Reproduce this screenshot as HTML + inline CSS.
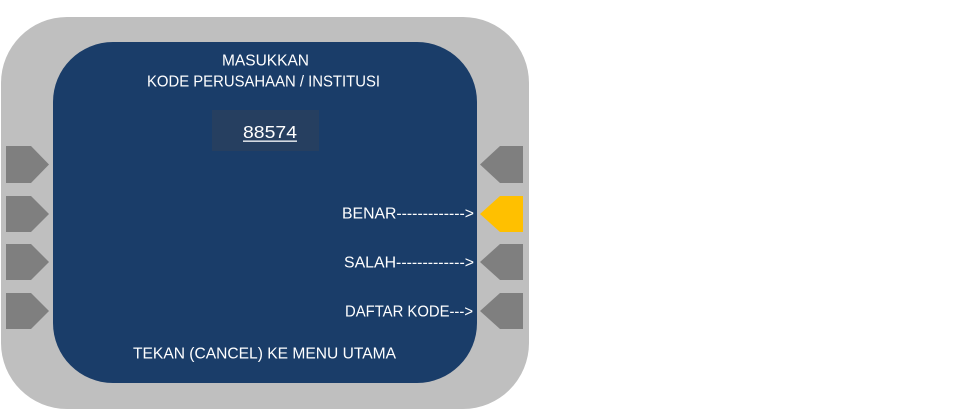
<!DOCTYPE html>
<html><head><meta charset="utf-8"><style>
html,body{margin:0;padding:0;background:#fff;}
svg{display:block;}
text{font-family:"Liberation Sans",sans-serif;fill:#ffffff;}
</style></head><body>
<svg width="979" height="419" viewBox="0 0 979 419" xmlns="http://www.w3.org/2000/svg">
<rect x="0" y="0" width="979" height="419" fill="#ffffff"/>
<rect x="1" y="17" width="528" height="392" rx="66" ry="66" fill="#bfbfbf"/>
<rect x="53" y="42" width="424" height="341" rx="60" ry="60" fill="#1a3d69"/>
<rect x="212" y="110" width="107" height="41" fill="#263f60"/>
<!-- left buttons -->
<polygon points="6,146 31,146 49,164.5 31,183 6,183" fill="#7f7f7f"/>
<polygon points="6,196 31,196 49,214 31,232 6,232" fill="#7f7f7f"/>
<polygon points="6,244 31,244 49,262 31,280 6,280" fill="#7f7f7f"/>
<polygon points="6,293 31,293 49,311 31,329 6,329" fill="#7f7f7f"/>
<!-- right buttons -->
<polygon points="523,146 500,146 480,164.5 500,183 523,183" fill="#7f7f7f"/>
<polygon points="523,196 500,196 480,214 500,232 523,232" fill="#ffc000"/>
<polygon points="523,244 500,244 480,262 500,280 523,280" fill="#7f7f7f"/>
<polygon points="523,293 500,293 480,311 500,329 523,329" fill="#7f7f7f"/>
<!-- texts -->
<text x="222" y="65.5" font-size="15.5" textLength="87" lengthAdjust="spacingAndGlyphs">MASUKKAN</text>
<text x="147" y="86.5" font-size="15.5" textLength="233" lengthAdjust="spacingAndGlyphs">KODE PERUSAHAAN / INSTITUSI</text>
<text x="243" y="138" font-size="17.5" textLength="54" lengthAdjust="spacingAndGlyphs">88574</text>
<rect x="243" y="140.5" width="54" height="1.3" fill="#ffffff"/>
<text x="342" y="218.5" font-size="15.5" textLength="132" lengthAdjust="spacingAndGlyphs">BENAR-------------&gt;</text>
<text x="344" y="267.5" font-size="15.5" textLength="130" lengthAdjust="spacingAndGlyphs">SALAH-------------&gt;</text>
<text x="345" y="316.5" font-size="15.5" textLength="128" lengthAdjust="spacingAndGlyphs">DAFTAR KODE---&gt;</text>
<text x="133" y="358.5" font-size="16" textLength="263" lengthAdjust="spacingAndGlyphs">TEKAN (CANCEL) KE MENU UTAMA</text>
</svg>
</body></html>
